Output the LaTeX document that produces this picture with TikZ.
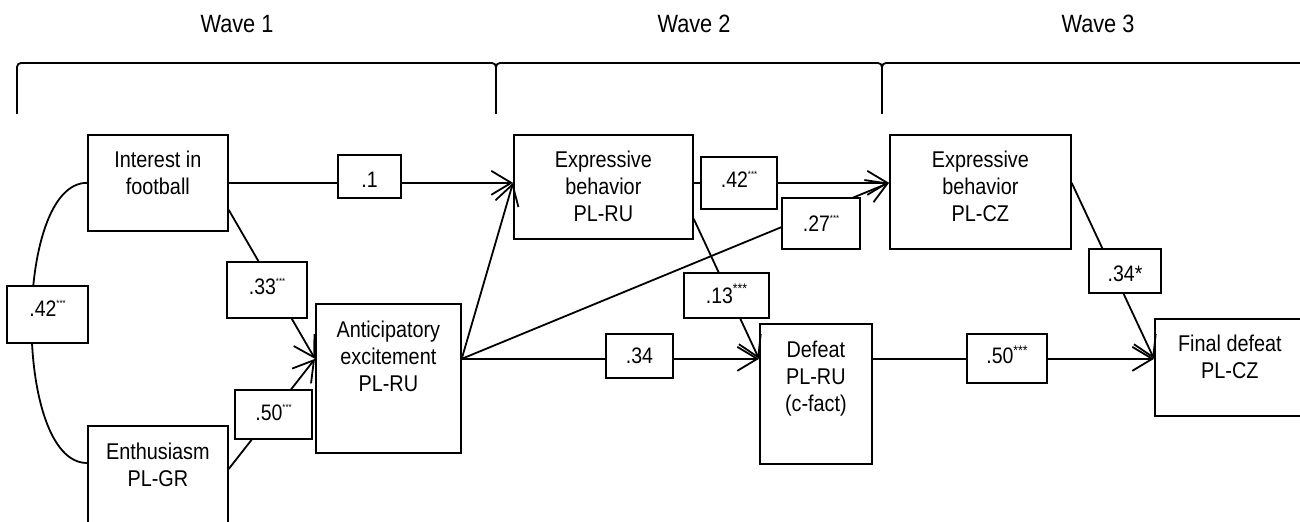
\documentclass[tikz,border=0pt]{standalone}
\usepackage{fontspec}
\setmainfont{Liberation Sans}[FakeStretch=0.87]
\usetikzlibrary{arrows.meta,calc}
\newcommand\bxt[4]{\parbox[c][#2][t]{#1}{\centering\fontsize{11.4}{13.5}\selectfont\vspace*{#3}#4\par}}
\newcommand\smst{\raisebox{5pt}{\fontsize{4.5}{4.5}\selectfont ***}}
\newcommand\bgst[1]{\raisebox{#1}{\fontsize{7}{7}\selectfont ***}}
\tikzset{
  bx/.style={draw, line width=0.85pt, inner sep=0pt, anchor=north west},
  lab/.style={draw, fill=white, line width=0.85pt, inner sep=0pt, font=\fontsize{11.2}{13}\selectfont, text height=8pt, text depth=0pt},
  con/.style={line width=0.9pt},
  arr/.style={con, -{Straight Barb[length=10pt,width=12pt]}},
  brace/.style={line width=0.9pt, rounded corners=2pt},
  wave/.style={font=\fontsize{12.5}{15}\selectfont, anchor=base, inner sep=0pt}
}
\begin{document}
\begin{tikzpicture}[x=0.5pt,y=-0.5pt]
\useasboundingbox (0,0) rectangle (1300,522);
\clip (0,0) rectangle (1300,522);
% wave headings
\node[wave] (w1) at (237,33) {Wave 1};
\node[wave] (w2) at (694,33) {Wave 2};
\node[wave] (w3) at (1098,33) {Wave 3};
% brackets
\draw[brace] (17,114) -- (17,63) -- (496,63) -- (496,114);
\draw[brace] (496,114) -- (496,63) -- (882,63) -- (882,114);
\draw[brace] (882,114) -- (882,63) -- (1320,63);
% boxes
\node[bx] (int) at (87,134) {\bxt{70pt}{48pt}{8pt}{Interest in\\football}};
\node[bx] (ent) at (87,425) {\bxt{70pt}{55pt}{8.5pt}{Enthusiasm\\PL-GR}};
\node[bx] (ant) at (315,303) {\bxt{72.5pt}{74.5pt}{8.5pt}{Anticipatory\\excitement\\PL-RU}};
\node[bx] (erub) at (513,134) {\bxt{89.5pt}{52pt}{8pt}{Expressive\\behavior\\PL-RU}};
\node[bx] (ecz) at (889,134) {\bxt{90.5pt}{57pt}{8pt}{Expressive\\behavior\\PL-CZ}};
\node[bx] (def) at (759,323) {\bxt{56pt}{70pt}{8.5pt}{Defeat\\PL-RU\\(c-fact)}};
\node[bx] (fin) at (1154,318) {\bxt{75pt}{48.5pt}{8pt}{Final defeat\\PL-CZ}};
% connector end points
\coordinate (intlo) at ([yshift=-13.5pt]int.east);
\coordinate (entr) at ([yshift=-22pt]ent.north east);
\coordinate (entl) at ([yshift=-19pt]ent.north west);
\coordinate (antin) at ([yshift=9.75pt]ant.west);
\coordinate (antout) at ([yshift=9.75pt]ant.east);
\coordinate (erubin) at ([yshift=2pt]erub.west);
\coordinate (erubout) at ([yshift=2pt]erub.east);
\coordinate (erublo) at ([yshift=-16pt]erub.east);
\coordinate (eczin) at ([yshift=4.5pt]ecz.west);
\coordinate (eczout) at ([yshift=4.5pt]ecz.east);
\coordinate (defin) at ([yshift=17.5pt]def.west);
\coordinate (defout) at ([yshift=17.5pt]def.east);
\coordinate (finin) at ([yshift=4.25pt]fin.west);
% connectors
\draw[con] (int.west) .. controls ($(int.west)+(-74,0)$) and ($(entl)+(-74,0)$) .. (entl);
\draw[arr] (int.east) -- (erubin);
\draw[arr] (intlo) -- (antin);
\draw[arr] (entr) -- (antin);
\draw[arr] (antout) -- (erubin);
\draw[arr] (antout) -- (eczin);
\draw[arr] (antout) -- (defin);
\draw[arr] (erubout) -- (eczin);
\draw[arr] (erublo) -- (defin);
\draw[arr] (defout) -- (finin);
\draw[arr] (eczout) -- (finin);
% path coefficients
\node[lab, minimum width=40.5pt, minimum height=28.5pt, text depth=6pt] (l42a) at (47.5,314.5) {.42\smst};
\node[lab, minimum width=40pt, minimum height=28pt, text depth=3.5pt] (l33) at (267,290) {.33\smst};
\node[lab, minimum width=38.5pt, minimum height=24.5pt, text depth=2pt] (l50a) at (273.5,414.5) {.50\smst};
\node[lab, minimum width=31.5pt, minimum height=21.5pt, text height=11.5pt] (l1) at (369.5,176.5) {.1};
\node[lab, minimum width=38pt, minimum height=26pt, text depth=3pt] (l42b) at (739,183) {.42\smst};
\node[lab, minimum width=39pt, minimum height=25.5pt] (l27) at (821,223.5) {.27\smst};
\node[lab, minimum width=42.5pt, minimum height=22.5pt] (l13) at (726.5,295.5) {.13\bgst{5pt}};
\node[lab, minimum width=33.5pt, minimum height=22pt] (l34) at (639.5,356) {.34};
\node[lab, minimum width=40pt, minimum height=24.5pt, text depth=3pt] (l50b) at (1007,358.5) {.50\bgst{4pt}};
\node[lab, minimum width=36pt, minimum height=22pt, text height=11pt] (l34s) at (1125,271) {.34*};
\end{tikzpicture}
\end{document}
